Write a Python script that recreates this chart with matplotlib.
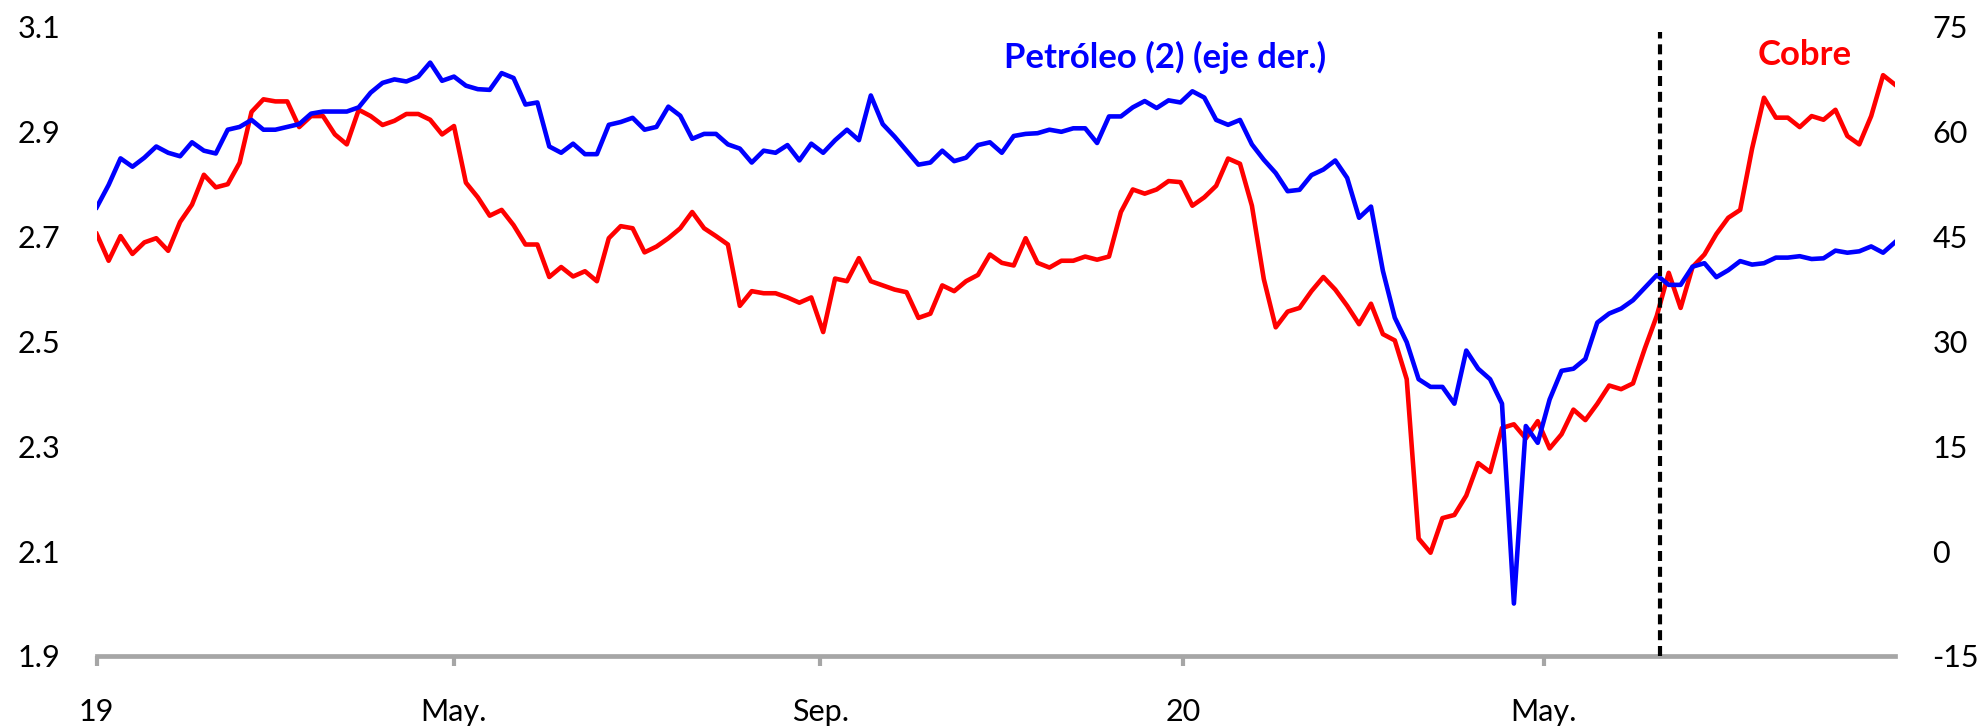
import numpy as np
import pandas as pd
import matplotlib
matplotlib.use("Agg")
import matplotlib.pyplot as plt

plt.rcParams["font.family"] = ["Lato", "DejaVu Sans"]

# one value every 4 days starting 2019-01-01
start = "2019-01-01"
step_days = 4

cobre = [
    2.705, 2.654, 2.701, 2.667, 2.689, 2.697, 2.673, 2.728, 2.761, 2.818,
    2.794, 2.800, 2.841, 2.938, 2.962, 2.958, 2.958, 2.909, 2.930, 2.930,
    2.895, 2.876, 2.942, 2.930, 2.913, 2.921, 2.934, 2.934, 2.923, 2.895,
    2.911, 2.803, 2.775, 2.740, 2.751, 2.722, 2.685, 2.685, 2.623, 2.642,
    2.624, 2.634, 2.615, 2.697, 2.720, 2.716, 2.670, 2.681, 2.697, 2.716,
    2.747, 2.716, 2.701, 2.685, 2.568, 2.596, 2.592, 2.592, 2.584, 2.574,
    2.584, 2.518, 2.620, 2.615, 2.659, 2.615, 2.607, 2.599, 2.594, 2.545,
    2.553, 2.607, 2.596, 2.615, 2.627, 2.666, 2.650, 2.645, 2.697, 2.650,
    2.641, 2.654, 2.654, 2.662, 2.656, 2.662, 2.747, 2.790, 2.782, 2.790,
    2.806, 2.804, 2.759, 2.775, 2.797, 2.849, 2.839, 2.759, 2.619, 2.527,
    2.557, 2.564, 2.596, 2.623, 2.599, 2.568, 2.533, 2.572, 2.514, 2.502,
    2.428, 2.124, 2.097, 2.163, 2.169, 2.206, 2.268, 2.251, 2.335, 2.342,
    2.315, 2.348, 2.296, 2.323, 2.370, 2.350, 2.381, 2.416, 2.409, 2.420,
    2.487, 2.549, 2.631, 2.564, 2.642, 2.666, 2.705, 2.736, 2.751, 2.868,
    2.965, 2.927, 2.927, 2.909, 2.930, 2.923, 2.942, 2.892, 2.876, 2.930,
    3.008, 2.990,
]

petroleo = [
    49.2, 52.4, 56.2, 55.0, 56.3, 57.9, 57.0, 56.5, 58.5, 57.3,
    56.9, 60.3, 60.7, 61.7, 60.3, 60.3, 60.7, 61.1, 62.6, 62.9,
    62.9, 62.9, 63.5, 65.6, 67.0, 67.5, 67.2, 67.9, 69.9, 67.3,
    67.9, 66.6, 66.1, 66.0, 68.4, 67.7, 63.9, 64.2, 57.9, 57.0,
    58.3, 56.8, 56.8, 61.0, 61.4, 62.0, 60.3, 60.7, 63.6, 62.3,
    59.0, 59.7, 59.7, 58.2, 57.6, 55.6, 57.3, 57.0, 58.1, 55.9,
    58.3, 57.0, 58.8, 60.3, 58.8, 65.2, 61.1, 59.3, 57.3, 55.3,
    55.6, 57.3, 55.8, 56.3, 58.1, 58.5, 57.0, 59.4, 59.7, 59.8,
    60.3, 60.0, 60.5, 60.5, 58.4, 62.2, 62.2, 63.5, 64.4, 63.4,
    64.5, 64.2, 65.8, 64.9, 61.7, 61.0, 61.7, 58.2, 56.0, 54.1,
    51.5, 51.7, 53.8, 54.6, 55.9, 53.4, 47.7, 49.3, 40.1, 33.4,
    29.9, 24.6, 23.5, 23.5, 21.1, 28.7, 26.1, 24.6, 21.1, -7.5,
    17.9, 15.5, 21.7, 25.8, 26.1, 27.5, 32.7, 34.0, 34.7, 35.9,
    37.7, 39.5, 38.1, 38.1, 40.7, 41.2, 39.2, 40.2, 41.5, 41.0,
    41.2, 42.0, 42.0, 42.2, 41.8, 41.9, 43.0, 42.7, 42.9, 43.6,
    42.7, 44.2,
]

tick_dates = ["2019-01-01", "2019-05-01", "2019-09-01", "2020-01-01", "2020-05-01"]
tick_labels = ["19", "May.", "Sep.", "20", "May."]
left_ticks = [1.9, 2.1, 2.3, 2.5, 2.7, 2.9, 3.1]
right_ticks = [-15, 0, 15, 30, 45, 60, 75]
corte = "2020-06-09"

dates = pd.date_range(start, periods=len(cobre), freq=f"{step_days}D")

col_cu = "#ff0000"
col_oil = "#0000ff"
col_axis = "#a6a6a6"

fig = plt.figure(figsize=(19.82, 7.27), dpi=100)
ax = fig.add_axes([0.0488, 0.0977, 0.9073, 0.8652])
ax2 = ax.twinx()

ax.plot(dates, cobre, color=col_cu, lw=3.3)
ax2.plot(dates, petroleo, color=col_oil, lw=3.3)
ax2.axvline(pd.Timestamp(corte), ymin=0, ymax=0.992, color="black",
            lw=3.0, ls=(0, (2.4, 1.4)), zorder=5)

ax.set_xlim(dates[0], dates[-1])
ax.set_ylim(1.9, 3.1)
ax2.set_ylim(-15, 75)
ax.set_yticks(left_ticks)
ax.set_yticklabels([f"{v:.1f}" for v in left_ticks])
ax2.set_yticks(right_ticks)
ax2.set_yticklabels([str(v) for v in right_ticks])
ax.set_xticks(pd.to_datetime(tick_dates))
ax.set_xticklabels(tick_labels)

for a in (ax, ax2):
    for s in a.spines.values():
        s.set_visible(False)
ax.spines["bottom"].set_visible(True)
ax.spines["bottom"].set_color(col_axis)
ax.spines["bottom"].set_linewidth(3.4)

ax.tick_params(axis="x", length=7, width=3, color=col_axis, pad=23,
               labelsize=22)
ax.tick_params(axis="y", length=0, pad=26, labelsize=22)
ax2.tick_params(axis="y", length=0, pad=27, labelsize=22)

ax.text(0.594, 0.951, "Petróleo (2) (eje der.)", transform=ax.transAxes,
        ha="center", va="center", color=col_oil, fontsize=25,
        fontweight="bold")
ax.text(0.950, 0.955, "Cobre", transform=ax.transAxes, ha="center",
        va="center", color=col_cu, fontsize=25, fontweight="bold")

fig.savefig("out.png", dpi=100)
